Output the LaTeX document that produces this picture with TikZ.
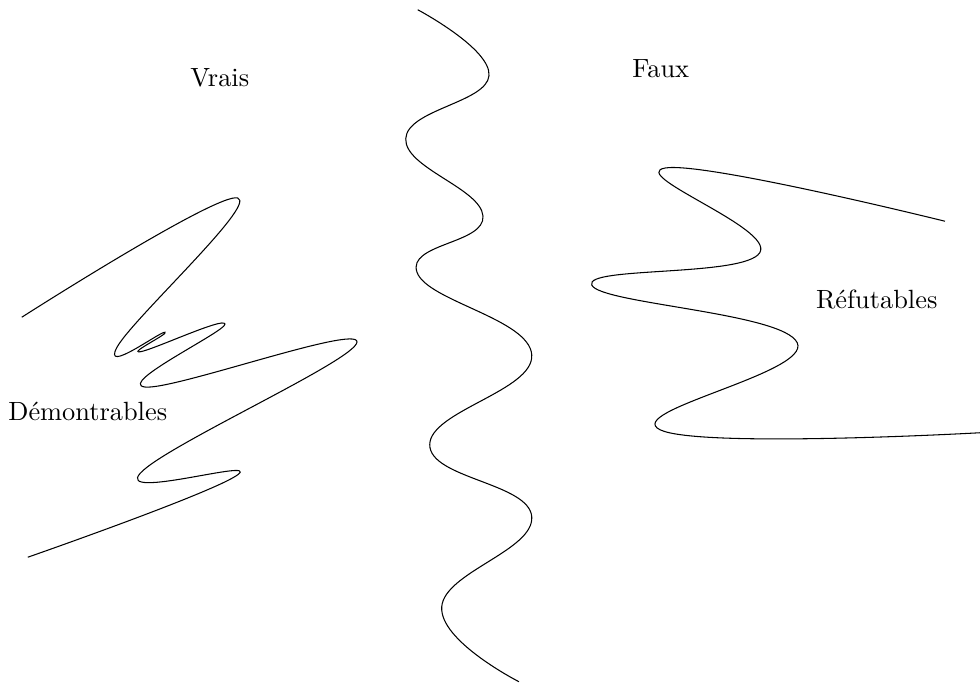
\documentclass[tikz,border=0pt]{standalone}
\usepackage{fontspec}
\usepackage{tikz}
\usetikzlibrary{positioning}
\begin{document}
\begin{tikzpicture}[x=1mm,y=1mm,
  lb/.style={font=\normalsize, inner sep=1pt},
  c/.style={draw=black, line width=0.4pt, smooth, tension=0.75}]
  \useasboundingbox (0,0) rectangle (130.67,91.2);
  % frontier between true and false
  \draw[c] plot coordinates {(55.7,89.9) (65.2,81.1) (54.1,72.7) (64.4,62.4)
     (55.6,54.9) (70.9,43.9) (57.3,31.9) (70.9,22.3) (58.9,10.3) (69.2,0.3)};
  % provable region
  \draw[c] plot coordinates {(2.9,48.9) (31.7,64.8) (15.6,44.9) (22.0,46.9)
     (18.7,44.3) (30.0,48.0) (19.3,39.6) (47.6,45.6) (18.7,28.1) (31.7,27.9)
     (3.7,16.9)};
  % refutable region
  \draw[c] plot coordinates {(126.0,61.7) (88.7,68.8) (101.3,57.5) (78.9,53.2)
     (106.3,45.5) (88.0,33.9) (130.7,33.5)};
  \node[lb] (vrais) at (29.3,80.8) {Vrais};
  \node[lb] (faux)  at (88.1,82.1) {Faux};
  \node[lb] (dem)   at (11.7,36.3) {Démontrables};
  \node[lb] (ref)   at (116.9,51.2) {Réfutables};
\end{tikzpicture}
\end{document}
